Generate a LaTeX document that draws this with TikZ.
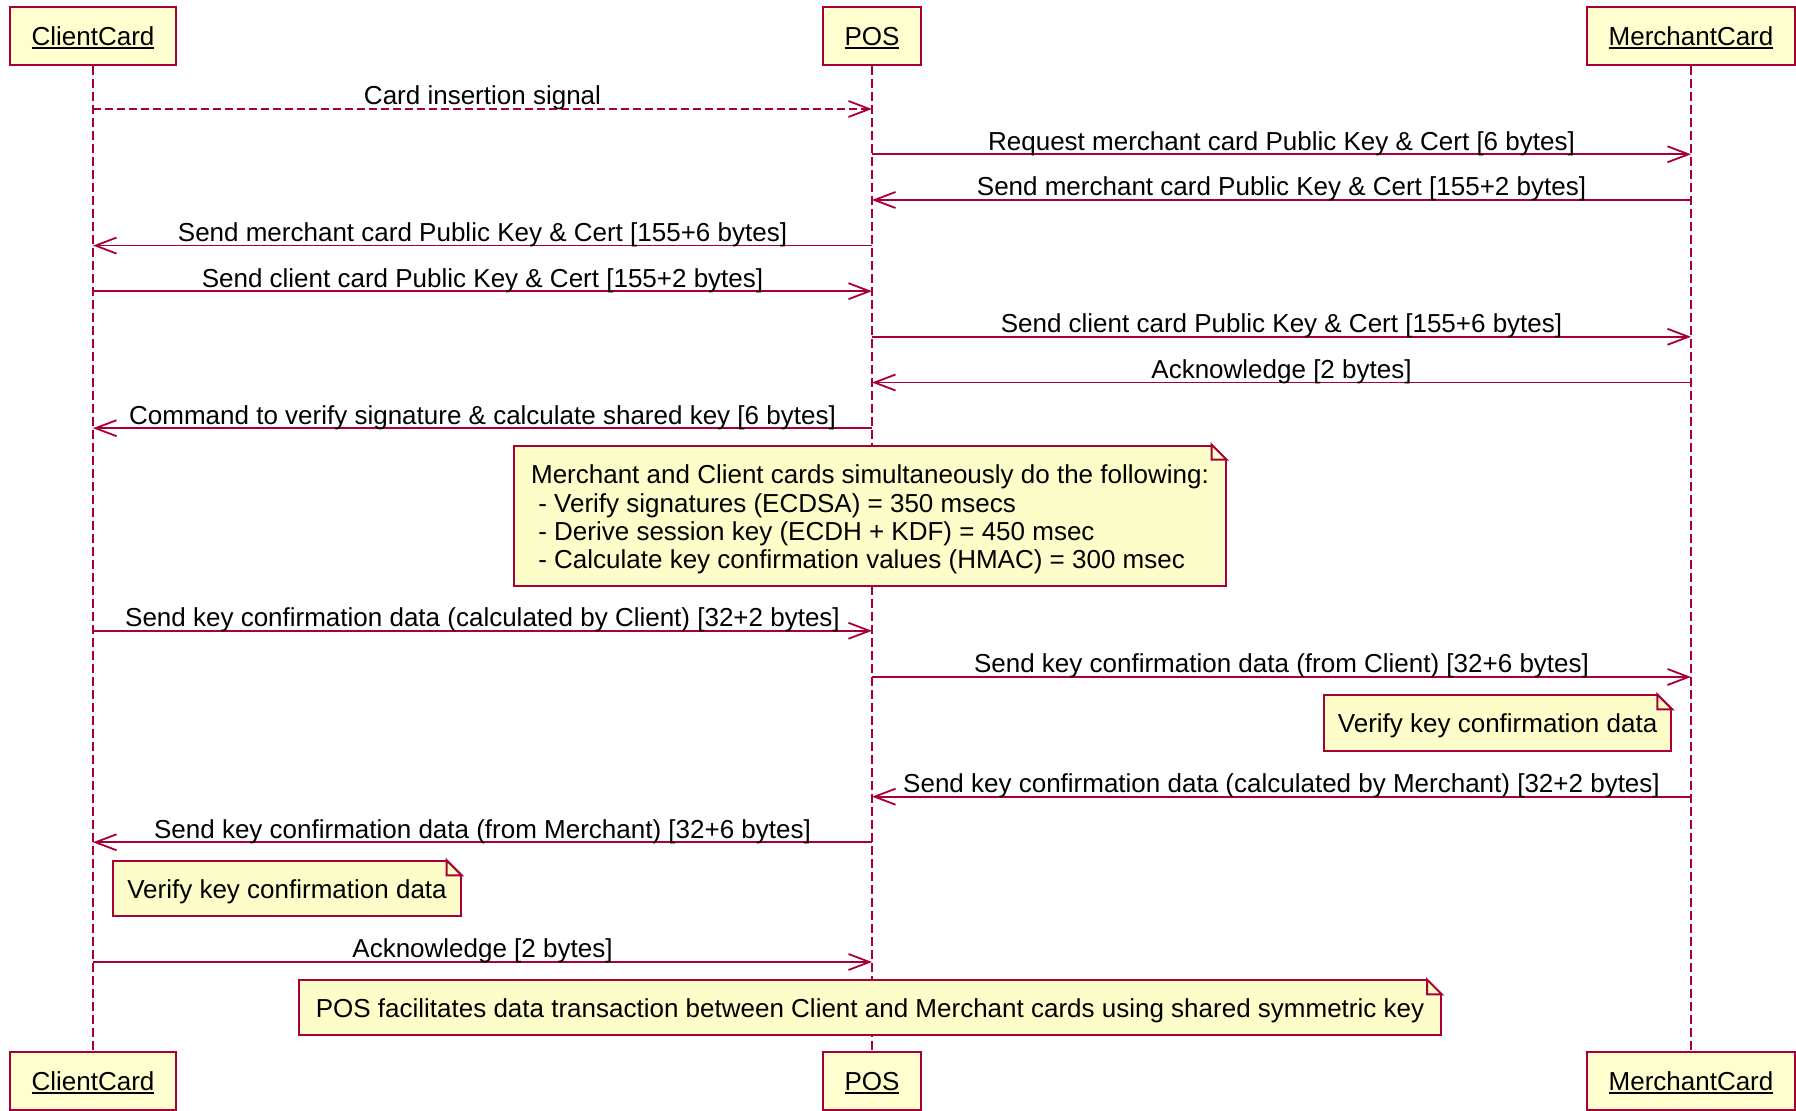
\documentclass[tikz,border=0pt]{standalone}
\usepackage{fontspec}
\setmainfont{Liberation Sans}
\usetikzlibrary{arrows.meta}
\definecolor{umlred}{HTML}{A80036}
\definecolor{umlfill}{HTML}{FEFECE}
\definecolor{notefill}{HTML}{FDFDC9}
\newcommand{\ulname}[1]{\setbox0=\hbox{#1}\rlap{\rule[-1.6pt]{\wd0}{0.9pt}}\box0}

\begin{document}
\begin{tikzpicture}[x=0.5pt, y=-0.5pt,
  every node/.style={font=\fontsize{13}{14.15}\selectfont},
  actor/.style={draw=umlred, fill=umlfill, line width=1pt, inner xsep=11pt, minimum height=29pt, text height=9.5pt, text depth=0pt},
  life/.style={umlred, line width=1pt, dash pattern=on 4.5pt off 2pt},
  msg/.style={umlred, line width=0.9pt, -{Straight Barb[length=10.5pt,width=8pt]}},
  dmsg/.style={msg, dash pattern=on 4pt off 2pt},
  lbl/.style={midway, anchor=base, yshift=2pt, text=black},
  note/.style={draw=umlred, fill=notefill, line width=1pt, inner xsep=7pt, inner ysep=0pt},
  oneline/.style={note, text height=9.3pt, text depth=0pt, minimum height=27.5pt},
]
\path[use as bounding box, fill=white] (0,0) rectangle (1796,1111);

\node[actor] (cTop) at (93,36) {\ulname{ClientCard}};
\node[actor] (pTop) at (872,36) {\ulname{POS}};
\node[actor] (mTop) at (1691,36) {\ulname{MerchantCard}};
\node[actor] (cBot) at (93,1081) {\ulname{ClientCard}};
\node[actor] (pBot) at (872,1081) {\ulname{POS}};
\node[actor] (mBot) at (1691,1081) {\ulname{MerchantCard}};

\draw[life] (cTop) -- (cBot);
\draw[life] (pTop) -- (pBot);
\draw[life] (mTop) -- (mBot);

\coordinate (m1) at (0,109);
\coordinate (m2) at (0,154.3);
\coordinate (m3) at (0,200);
\coordinate (m4) at (0,245.6);
\coordinate (m5) at (0,291.2);
\coordinate (m6) at (0,336.8);
\coordinate (m7) at (0,382.5);
\coordinate (m8) at (0,428.2);
\coordinate (m9) at (0,630.8);
\coordinate (m10) at (0,677);
\coordinate (m11) at (0,796.7);
\coordinate (m12) at (0,842.3);
\coordinate (m13) at (0,962);

\draw[dmsg] (cTop |- m1) -- node[lbl] (t1) {Card insertion signal} (pTop |- m1);
\draw[msg] (pTop |- m2) -- node[lbl] (t2) {Request merchant card Public Key \& Cert [6 bytes]} (mTop |- m2);
\draw[msg] (mTop |- m3) -- node[lbl] (t3) {Send merchant card Public Key \& Cert [155+2 bytes]} (pTop |- m3);
\draw[msg] (pTop |- m4) -- node[lbl] (t4) {Send merchant card Public Key \& Cert [155+6 bytes]} (cTop |- m4);
\draw[msg] (cTop |- m5) -- node[lbl] (t5) {Send client card Public Key \& Cert [155+2 bytes]} (pTop |- m5);
\draw[msg] (pTop |- m6) -- node[lbl] (t6) {Send client card Public Key \& Cert [155+6 bytes]} (mTop |- m6);
\draw[msg] (mTop |- m7) -- node[lbl] (t7) {Acknowledge [2 bytes]} (pTop |- m7);
\draw[msg] (pTop |- m8) -- node[lbl] (t8) {Command to verify signature \& calculate shared key [6 bytes]} (cTop |- m8);

\node[note, align=left, minimum width=355.6pt, minimum height=70.4pt] (nA) at (870,516)
  {\rule{0pt}{12.9pt}Merchant and Client cards simultaneously do the following:\\
   \hspace*{3.6pt}- Verify signatures (ECDSA) = 350 msecs\\
   \hspace*{3.6pt}- Derive session key (ECDH + KDF) = 450 msec\\
   \hspace*{3.6pt}- Calculate key confirmation values (HMAC) = 300 msec};

\draw[msg] (cTop |- m9) -- node[lbl] (t9) {Send key confirmation data (calculated by Client) [32+2 bytes]} (pTop |- m9);
\draw[msg] (pTop |- m10) -- node[lbl] (t10) {Send key confirmation data (from Client) [32+6 bytes]} (mTop |- m10);

\node[oneline, minimum width=172.4pt, minimum height=28pt] (nB) at (1497.6,723.4) {Verify key confirmation data};

\draw[msg] (mTop |- m11) -- node[lbl] (t11) {Send key confirmation data (calculated by Merchant) [32+2 bytes]} (pTop |- m11);
\draw[msg] (pTop |- m12) -- node[lbl] (t12) {Send key confirmation data (from Merchant) [32+6 bytes]} (cTop |- m12);

\node[oneline, minimum width=172.4pt] (nC) at (287,888.8) {Verify key confirmation data};

\draw[msg] (cTop |- m13) -- node[lbl] (t13) {Acknowledge [2 bytes]} (pTop |- m13);

\node[oneline, minimum width=571pt] (nD) at (870,1008)
  {POS facilitates data transaction between Client and Merchant cards using shared symmetric key};

\foreach \n in {nA,nB,nC,nD}{
  \fill[white] ([xshift=-7.5pt]\n.north east) -- ([xshift=-7.5pt,yshift=1pt]\n.north east)
    -- ([shift={(1pt,1pt)}]\n.north east) -- ([shift={(1pt,-7.5pt)}]\n.north east)
    -- ([yshift=-7.5pt]\n.north east) -- cycle;
  \draw[umlred, line width=1pt, fill=notefill] ([xshift=-7.5pt]\n.north east)
    |- ([yshift=-7.5pt]\n.north east) -- cycle;
}
\end{tikzpicture}
\end{document}
